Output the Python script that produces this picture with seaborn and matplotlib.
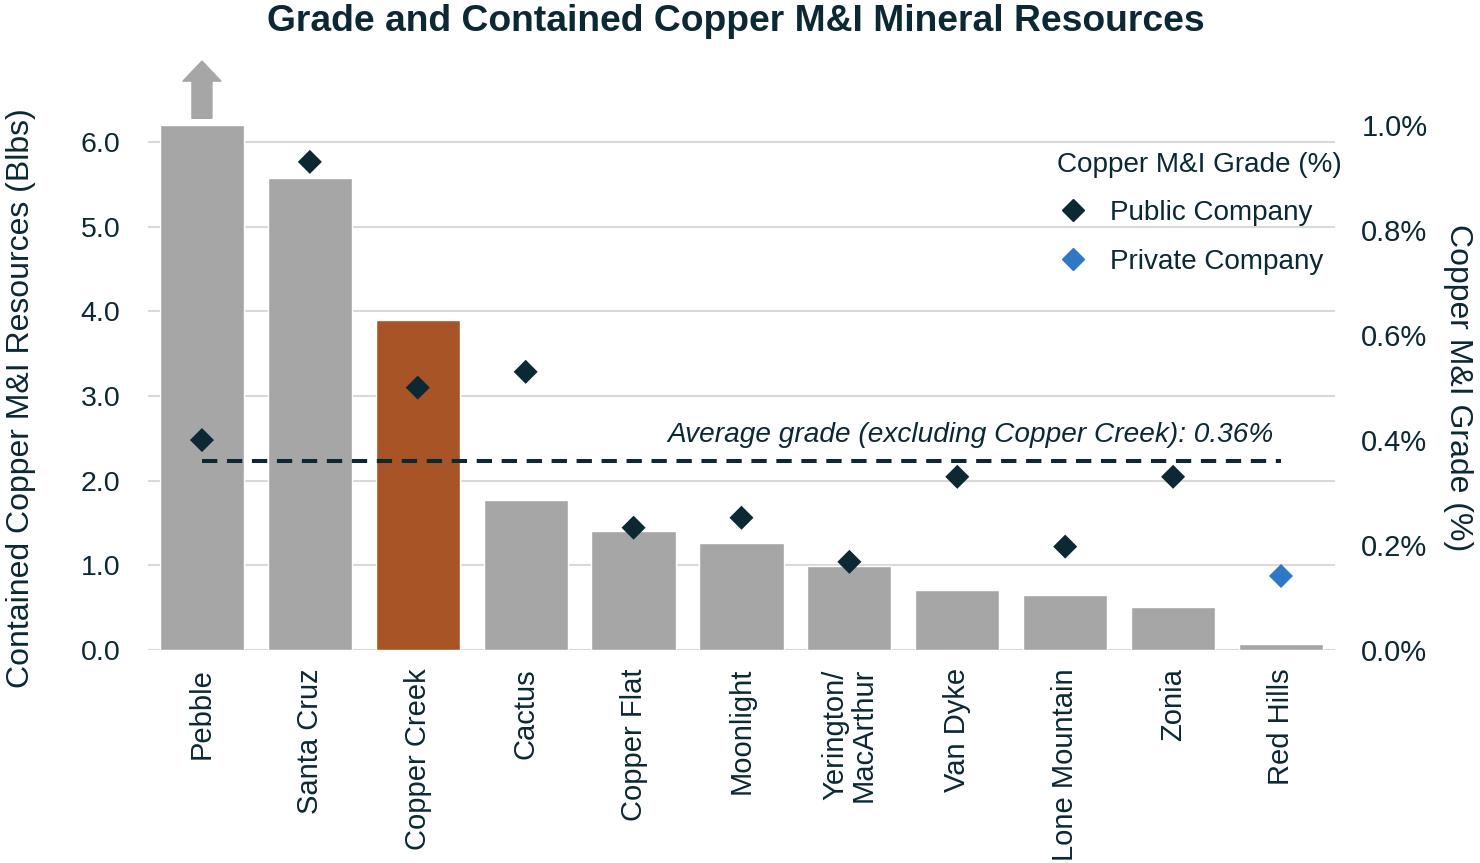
import numpy as np
import matplotlib
matplotlib.use("Agg")
import matplotlib.pyplot as plt
from matplotlib.lines import Line2D
import seaborn as sns

sites = ["Pebble", "Santa Cruz", "Copper Creek", "Cactus", "Copper Flat", "Moonlight",
         "Yerington/\nMacArthur", "Van Dyke", "Lone Mountain", "Zonia", "Red Hills"]
contained_blbs = [6.2, 5.58, 3.90, 1.77, 1.40, 1.26, 0.99, 0.71, 0.65, 0.51, 0.07]
grade_pct = [0.40, 0.93, 0.50, 0.53, 0.233, 0.252, 0.168, 0.33, 0.197, 0.33, 0.141]
owner = ["Public Company"] * 10 + ["Private Company"]
avg_grade = 0.36
left_ticks = [0.0, 1.0, 2.0, 3.0, 4.0, 5.0, 6.0]
right_ticks = [0.0, 0.2, 0.4, 0.6, 0.8, 1.0]

NAVY = "#0B2833"
GRAY = "#A6A6A6"
COPPER = "#A85426"
BLUE = "#2F78C4"
GRID = "#D9D9D9"

sns.set_theme(style="white")
plt.rcParams["font.family"] = ["Liberation Sans", "DejaVu Sans"]
plt.rcParams["text.color"] = NAVY

fig = plt.figure(figsize=(14.8, 8.63), dpi=100)
ax = fig.add_axes([0.1, 0.2468, 0.802, 0.6082])

bar_colors = {s: (COPPER if s == "Copper Creek" else GRAY) for s in sites}
x_pos = np.arange(len(sites))
sns.barplot(x=x_pos, y=contained_blbs, hue=x_pos, palette=[bar_colors[s] for s in sites],
            saturation=1, width=0.78, legend=False, ax=ax, zorder=2)

ax.set_ylim(0, 6.2)
ax.set_xlim(-0.5, len(sites) - 0.5)
ax.set_yticks(left_ticks)
ax.set_yticklabels([f"{v:.1f}" for v in left_ticks], fontsize=20.5, color=NAVY)
ax.set_xticks(x_pos)
ax.set_xticklabels(sites, rotation=90, fontsize=21, color=NAVY, va="top", ha="center",
                   linespacing=1.0)
ax.tick_params(axis="y", length=0, pad=20)
ax.tick_params(axis="x", length=0, pad=13)
ax.grid(axis="y", color=GRID, linewidth=1.5, zorder=0)
ax.set_axisbelow(True)
for sp in ax.spines.values():
    sp.set_visible(False)
ax.set_ylabel("Contained Copper M&I Resources (Blbs)", fontsize=23, color=NAVY)
ax.yaxis.set_label_coords(-0.0944, 0.48)
ax.set_xlabel("")

# arrow showing Pebble goes off the chart
ax.annotate("", xy=(0, 1.122), xytext=(0, 1.013),
            xycoords=("data", "axes fraction"), textcoords=("data", "axes fraction"),
            arrowprops=dict(arrowstyle="simple,head_width=1.9,head_length=1.0,tail_width=1.0",
                            color=GRAY, mutation_scale=14.4, shrinkA=0, shrinkB=0),
            annotation_clip=False)

ax2 = ax.twinx()
sns.scatterplot(x=x_pos, y=grade_pct, hue=owner,
                palette={"Public Company": NAVY, "Private Company": BLUE},
                marker="D", s=150, linewidth=0, legend=False, ax=ax2, zorder=4)
ax2.hlines(avg_grade, x_pos[0], x_pos[-1], colors=NAVY, linestyles=(0, (3.8, 2.4)),
           linewidth=2.9, zorder=3)
ax2.text(x_pos[-1] - 0.07, avg_grade + 0.025, f"Average grade (excluding Copper Creek): {avg_grade:.2f}%",
         fontsize=20.2, style="italic", color=NAVY, ha="right", va="bottom")
ax2.set_ylim(0, 1.0)
ax2.set_yticks(right_ticks)
ax2.set_yticklabels([f"{v:.1f}%" for v in right_ticks], fontsize=21, color=NAVY)
ax2.tick_params(axis="y", length=0, pad=19)
for sp in ax2.spines.values():
    sp.set_visible(False)
ax2.set_ylabel("Copper M&I Grade (%)", fontsize=23, color=NAVY, rotation=270, labelpad=33)
ax2.grid(False)

handles = [Line2D([], [], marker="D", linestyle="none", markersize=11, color=NAVY),
           Line2D([], [], marker="D", linestyle="none", markersize=11, color=BLUE)]
leg = fig.legend(handles, ["Public Company", "Private Company"], title="Copper M&I Grade (%)",
                 loc="upper left", bbox_to_anchor=(0.714, 0.824), frameon=False,
                 fontsize=20.1, title_fontsize=20.1, alignment="left", borderpad=0,
                 borderaxespad=0, handlelength=1.2, handletextpad=0.7, labelspacing=0.8)
for t in leg.get_texts():
    t.set_color(NAVY)
leg.get_title().set_color(NAVY)

fig.text(0.497, 0.975, "Grade and Contained Copper M&I Mineral Resources",
         fontsize=26.8, fontweight="bold", color=NAVY, ha="center", va="center")

fig.savefig("out.png", dpi=100)
